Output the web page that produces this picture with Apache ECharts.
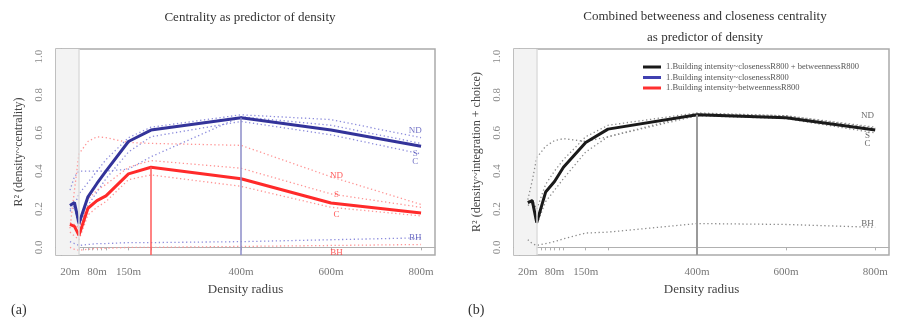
<!DOCTYPE html>
<html>
<head>
    <meta charset="utf-8" />
    <title>ECharts</title>
    <script src="https://cdn.jsdelivr.net/npm/echarts@6/dist/echarts.min.js"></script>
    <style>
        html, body { margin: 0; padding: 0; background: #fff; }
    </style>
</head>
<body>
<div id="main" style="width: 897px;height:320px;"></div>

<script type="text/javascript">
    // radii (m) and ticks
    var radii = [20, 30, 40, 60, 80, 100, 150, 200, 400, 600, 800];
    var xTicks = [20, 30, 40, 50, 60, 70, 80, 90, 100, 150, 200, 400, 600, 800];
    var xLabels = [20, 80, 150, 400, 600, 800];
    var yLabels = [0, 0.2, 0.4, 0.6, 0.8, 1.0];

    // (a) closeness (blue)
    var closeness   = [0.22, 0.235, 0.125, 0.265, 0.335, 0.40, 0.555, 0.615, 0.68, 0.615, 0.53];
    var closenessND = [0.20, 0.22, 0.28, 0.34, 0.40, 0.46, 0.575, 0.63, 0.695, 0.67, 0.575];
    var closenessS  = [0.30, 0.37, 0.40, 0.40, 0.40, 0.40, 0.41, 0.475, 0.685, 0.64, 0.545];
    var closenessC  = [0.19, 0.21, 0.10, 0.22, 0.29, 0.36, 0.50, 0.58, 0.66, 0.59, 0.49];
    var closenessBH = [0.03, 0.02, 0.01, 0.015, 0.02, 0.02, 0.025, 0.025, 0.03, 0.04, 0.05];

    // (a) betweenness (red)
    var betweenness   = [0.12, 0.11, 0.063, 0.205, 0.245, 0.27, 0.385, 0.42, 0.36, 0.233, 0.18];
    var betweennessND = [0.10, 0.30, 0.49, 0.555, 0.58, 0.575, 0.55, 0.545, 0.535, 0.37, 0.225];
    var betweennessS  = [0.13, 0.12, 0.10, 0.25, 0.30, 0.33, 0.42, 0.455, 0.415, 0.28, 0.21];
    var betweennessC  = [0.08, 0.06, 0.04, 0.17, 0.21, 0.24, 0.355, 0.38, 0.32, 0.21, 0.165];
    var betweennessBH = [0.0, -0.01, -0.015, -0.01, -0.005, -0.005, 0.0, 0.0, 0.005, 0.01, 0.015];

    // (b) closeness + betweenness (black)
    var combined   = [0.235, 0.245, 0.13, 0.29, 0.345, 0.42, 0.55, 0.62, 0.695, 0.68, 0.615];
    var combinedND = [0.25, 0.35, 0.47, 0.53, 0.56, 0.57, 0.555, 0.58, 0.70, 0.69, 0.63];
    var combinedS  = [0.24, 0.25, 0.20, 0.33, 0.40, 0.46, 0.58, 0.64, 0.705, 0.69, 0.625];
    var combinedC  = [0.22, 0.23, 0.12, 0.24, 0.30, 0.36, 0.50, 0.58, 0.69, 0.675, 0.60];
    var combinedBH = [0.04, 0.02, 0.01, 0.02, 0.03, 0.045, 0.075, 0.08, 0.125, 0.12, 0.105];

    // line tags
    var tagNames = ['ND', 'S', 'C', 'BH'];
    var blueTagX = 787,  blueTagY  = [0.61, 0.49, 0.452, 0.05];
    var redTagX = 612,   redTagY   = [0.375, 0.275, 0.17, -0.028];
    var blackTagX = 783, blackTagY = [0.69, 0.588, 0.545, 0.125];

    var legendNames = [
        '1.Building intensity~closenessR800 + betweennessR800',
        '1.Building intensity~closenessR800',
        '1.Building intensity~betweennessR800'
    ];

    var FONT = 'Liberation Serif';
    var XMIN = -11, XMAX = 831, YMIN = -0.04, YMAX = 1.04, STRIP = 40;

    function pairs(vals) {
        return radii.map(function (r, i) { return [r, vals[i]]; });
    }

    function solid(name, idx, vals, color, vColor, vWidth) {
        var peak = Math.max.apply(null, vals);
        var peakX = radii[vals.indexOf(peak)];
        return {
            name: name, type: 'line', xAxisIndex: idx, yAxisIndex: idx,
            data: pairs(vals), showSymbol: false, symbol: 'none', z: 4,
            lineStyle: { color: color, width: 3 }, itemStyle: { color: color },
            markLine: {
                silent: true, symbol: 'none', label: { show: false },
                lineStyle: { color: vColor, width: vWidth, type: 'solid' },
                data: [[{ coord: [peakX, YMIN] }, { coord: [peakX, peak] }]]
            }
        };
    }

    function dotted(idx, vals, color) {
        return {
            type: 'line', xAxisIndex: idx, yAxisIndex: idx,
            data: pairs(vals), showSymbol: false, symbol: 'none', z: 3,
            lineStyle: { color: color, width: 1.3, type: [1.3, 2.6] }
        };
    }

    function tags(idx, x, ys, color) {
        return {
            type: 'scatter', xAxisIndex: idx, yAxisIndex: idx, z: 6,
            symbolSize: 1, itemStyle: { color: 'rgba(0,0,0,0)' },
            data: tagNames.map(function (t, i) { return { name: t, value: [x, ys[i]] }; }),
            label: {
                show: true, position: 'inside', formatter: '{b}',
                color: color, fontFamily: FONT, fontSize: 9
            }
        };
    }

    function strip(idx) {
        return {
            type: 'line', xAxisIndex: idx, yAxisIndex: idx, data: [], z: 1,
            markArea: {
                silent: true, itemStyle: { color: '#f3f3f3' },
                data: [[{ xAxis: XMIN }, { xAxis: STRIP }]]
            },
            markLine: {
                silent: true, symbol: 'none', label: { show: false },
                lineStyle: { color: '#dcdcdc', width: 1.5, type: 'solid' },
                data: [{ xAxis: STRIP }]
            }
        };
    }

    function xAxis(idx) {
        return {
            type: 'value', gridIndex: idx, min: XMIN, max: XMAX, offset: 3,
            splitLine: { show: false },
            axisLine: { lineStyle: { color: '#b0b0b0', width: 1.2 } },
            axisTick: { customValues: xTicks, length: 3, lineStyle: { color: '#b0b0b0' } },
            axisLabel: {
                customValues: xLabels, margin: 9, color: '#777', fontFamily: FONT, fontSize: 11,
                formatter: function (v) { return v + 'm'; }
            },
            name: 'Density radius', nameLocation: 'middle', nameGap: 21,
            nameTextStyle: { color: '#444', fontFamily: FONT, fontSize: 13 }
        };
    }

    function yAxis(idx, name) {
        return {
            type: 'value', gridIndex: idx, min: YMIN, max: YMAX, offset: 3,
            splitLine: { show: false },
            axisLine: { lineStyle: { color: '#b0b0b0', width: 1.2 } },
            axisTick: { customValues: yLabels, length: 3, lineStyle: { color: '#b0b0b0' } },
            axisLabel: {
                customValues: yLabels, rotate: 90, margin: 8, color: '#888', fontFamily: FONT, fontSize: 11,
                formatter: function (v) { return v.toFixed(1); }
            },
            name: name, nameLocation: 'middle', nameGap: 28,
            nameTextStyle: { color: '#444', fontFamily: FONT, fontSize: 12 }
        };
    }

    var myChart = echarts.init(document.getElementById('main'));

    var option = {
        animation: false,
        backgroundColor: '#fff',
        title: [
            { text: 'Centrality as predictor of density', left: 245, top: 6, textAlign: 'center',
              textStyle: { fontFamily: FONT, fontSize: 13, fontWeight: 'normal', color: '#333' } },
            { text: 'Combined betweeness and closeness centrality\nas predictor of density', left: 700, top: 1, textAlign: 'center',
              textStyle: { fontFamily: FONT, fontSize: 13, fontWeight: 'normal', color: '#333', lineHeight: 21 } },
            { text: '(a)', left: 6, top: 298, textStyle: { fontFamily: FONT, fontSize: 14, fontWeight: 'normal', color: '#333' } },
            { text: '(b)', left: 463, top: 298, textStyle: { fontFamily: FONT, fontSize: 14, fontWeight: 'normal', color: '#333' } }
        ],
        legend: {
            left: 638, top: 57, orient: 'vertical', icon: 'rect',
            itemWidth: 18, itemHeight: 3, itemGap: 0.5,
            data: legendNames,
            textStyle: { fontFamily: FONT, fontSize: 8.5, color: '#555', lineHeight: 10 }
        },
        grid: [
            { left: 56, top: 49, width: 379, height: 206, show: true, borderColor: '#aaa', borderWidth: 1.5, backgroundColor: 'transparent' },
            { left: 514, top: 49, width: 375, height: 206, show: true, borderColor: '#aaa', borderWidth: 1.5, backgroundColor: 'transparent' }
        ],
        xAxis: [xAxis(0), xAxis(1)],
        yAxis: [yAxis(0, 'R² (density~centrality)'), yAxis(1, 'R² (density~integration + choice)')],
        series: [
            strip(0),
            dotted(0, closenessND, '#8c8cdc'),
            dotted(0, closenessS, '#8c8cdc'),
            dotted(0, closenessC, '#8c8cdc'),
            dotted(0, closenessBH, '#8c8cdc'),
            dotted(0, betweennessND, '#ff9494'),
            dotted(0, betweennessS, '#ff9494'),
            dotted(0, betweennessC, '#ff9494'),
            dotted(0, betweennessBH, '#ff9494'),
            solid('a-closeness', 0, closeness, '#33339a', '#8c8cc8', 1.5),
            solid('a-betweenness', 0, betweenness, '#ff2a2a', '#ff5a5a', 1.5),
            tags(0, blueTagX, blueTagY, '#5050b8'),
            tags(0, redTagX, redTagY, '#ff3030'),

            strip(1),
            dotted(1, combinedND, '#8a8a8a'),
            dotted(1, combinedS, '#8a8a8a'),
            dotted(1, combinedC, '#8a8a8a'),
            dotted(1, combinedBH, '#8a8a8a'),
            solid(legendNames[0], 1, combined, '#1a1a1a', '#9a9a9a', 2),
            { name: legendNames[1], type: 'line', xAxisIndex: 1, yAxisIndex: 1, data: [], itemStyle: { color: '#4040b0' } },
            { name: legendNames[2], type: 'line', xAxisIndex: 1, yAxisIndex: 1, data: [], itemStyle: { color: '#ff3030' } },
            tags(1, blackTagX, blackTagY, '#444')
        ]
    };

    myChart.setOption(option);
</script>
</body>
</html>
